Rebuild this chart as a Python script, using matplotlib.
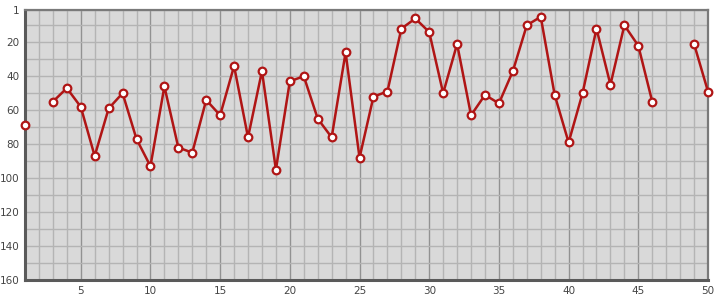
import numpy as np
import matplotlib
matplotlib.use('Agg')
import matplotlib.pyplot as plt
from matplotlib.ticker import MultipleLocator, FixedLocator

# ranks by day, None = no data
days = list(range(1, 51))
ranks = [69, None, 55, 47, 58, 87, 59, 50, 77, 93,
         46, 82, 85, 54, 63, 34, 76, 37, 95, 43,
         40, 65, 76, 26, 88, 52, 49, 12, 6, 14,
         50, 21, 63, 51, 56, 37, 10, 5, 51, 79,
         50, 12, 45, 10, 22, 55, None, None, 21, 49]
y_ticks = [1, 20, 40, 60, 80, 100, 120, 140, 160]
x_ticks = [5, 10, 15, 20, 25, 30, 35, 40, 45, 50]

vals = np.array([np.nan if v is None else v for v in ranks], dtype=float)

fig = plt.figure(figsize=(7.15, 3.0), dpi=100)
ax = fig.add_axes([25/715, 20/300, 683/715, 270/300])
ax.set_facecolor('#d9d9d9')

ax.set_xlim(1, 50)
ax.set_ylim(160, 1)

# grid: light every 1 / 10, darker every 5 on x
ax.xaxis.set_minor_locator(MultipleLocator(1))
ax.yaxis.set_minor_locator(MultipleLocator(10))
ax.set_xticks(x_ticks)
ax.set_yticks(y_ticks)
ax.grid(which='minor', color='#b4b4b4', lw=1)
ax.grid(which='major', axis='y', color='#b4b4b4', lw=1)
ax.grid(which='major', axis='x', color='#929292', lw=1)
ax.set_axisbelow(True)

ax.tick_params(which='both', length=0, labelsize=7.5, labelcolor='#444444', pad=4)

for side in ['left', 'bottom']:
    ax.spines[side].set_color('#5a5a5a')
    ax.spines[side].set_linewidth(2.2)
for side in ['top', 'right']:
    ax.spines[side].set_color('#7a7a7a')
    ax.spines[side].set_linewidth(1.6)

ax.plot(days, vals, color='#b01515', lw=1.8, marker='o', ms=5.5,
        mfc='white', mec='#b01515', mew=1.6, clip_on=False, zorder=3)

plt.savefig('out.png', dpi=100)
